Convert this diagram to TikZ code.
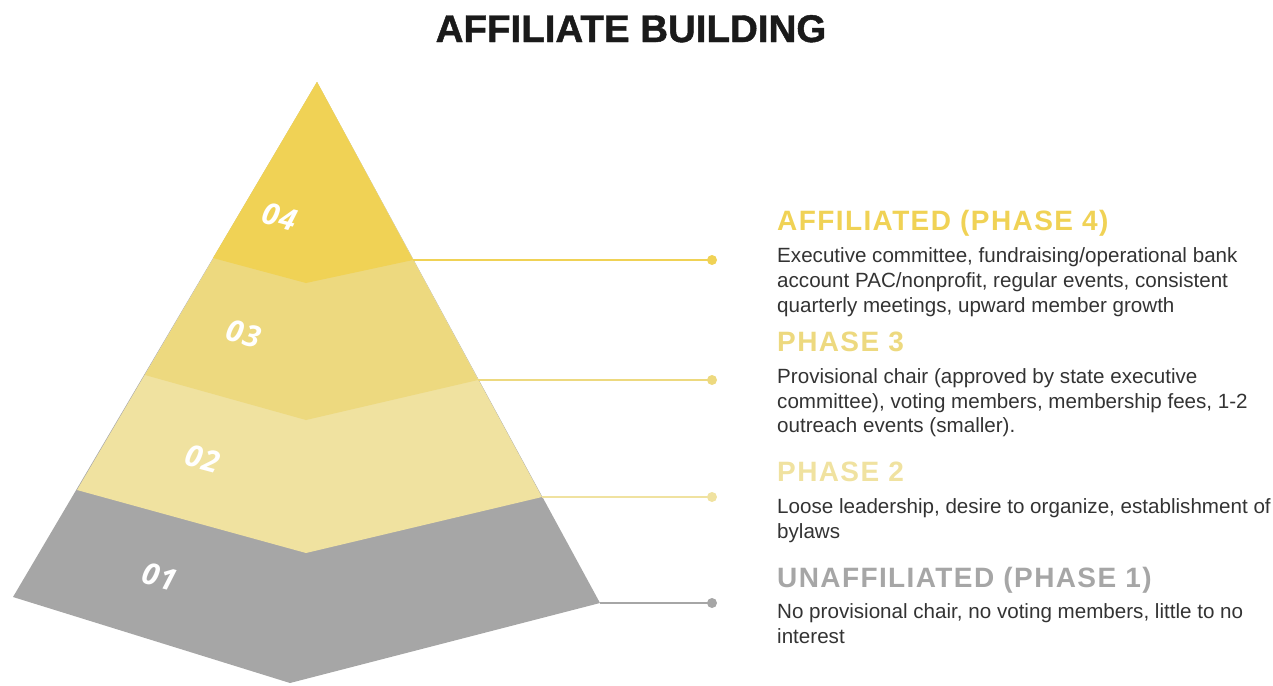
\documentclass[tikz,border=0pt]{standalone}
\usepackage{fontspec}
\setmainfont{Liberation Sans}
\newfontfamily\headfont[LetterSpace=5]{Liberation Sans}
\newfontfamily\titlefont[BoldFeatures={FakeBold=1.2}]{Liberation Sans}
\newfontfamily\numfont[LetterSpace=4]{Open Sans}
\definecolor{cfour}{HTML}{F0D255}
\definecolor{cthree}{HTML}{EDD97F}
\definecolor{ctwo}{HTML}{F0E2A0}
\definecolor{cone}{HTML}{A6A6A6}
\definecolor{bodytext}{HTML}{333333}
\definecolor{titlecol}{HTML}{1A1A1A}
\tikzset{
  head/.style={anchor=base west, inner sep=0pt, font=\headfont\bfseries\fontsize{28}{28}\selectfont},
  body/.style={anchor=base west, inner sep=0pt, text=bodytext, font=\fontsize{20.6}{25}\selectfont},
  num/.style={inner sep=0pt, text=white, rotate=-15, font=\numfont\bfseries\itshape\fontsize{30}{30}\selectfont},
  dot/.style={circle, inner sep=0pt, minimum size=10pt},
  conn/.style={line width=2pt}
}
\begin{document}
\begin{tikzpicture}[x=1pt,y=-1pt]
\useasboundingbox (0,0) rectangle (1273,685);
% pyramid points
\coordinate (apex) at (317,82);
\coordinate (l4) at (213,258); \coordinate (m4) at (306,283); \coordinate (r4) at (413,260);
\coordinate (l3) at (145,375); \coordinate (m3) at (306,420); \coordinate (r3) at (478,380);
\coordinate (l2) at (77,490);  \coordinate (m2) at (306,553); \coordinate (r2) at (542,497);
\coordinate (l1) at (13,597);  \coordinate (m1) at (290,683); \coordinate (r1) at (600,603);
% layers
\fill[cone]   (apex) -- (r1) -- (m1) -- (l1) -- cycle;
\fill[ctwo]   (apex) -- (r2) -- (m2) -- (l2) -- cycle;
\fill[cthree] (apex) -- (r3) -- (m3) -- (l3) -- cycle;
\fill[cfour]  (apex) -- (r4) -- (m4) -- (l4) -- cycle;
% numbers
\node[num] (n4) at (280,217) {04};
\node[num] (n3) at (244,334) {03};
\node[num] (n2) at (203,459) {02};
\node[num] (n1) at (160,577) {01};
% dots
\node[dot, fill=cfour]  (d4) at (712,260) {};
\node[dot, fill=cthree] (d3) at (712,380) {};
\node[dot, fill=ctwo]   (d2) at (712,497) {};
\node[dot, fill=cone]   (d1) at (712,603) {};
% connectors
\draw[conn, cfour]  (r4) -- (d4.center);
\draw[conn, cthree] (r3) -- (d3.center);
\draw[conn, ctwo]   (r2) -- (d2.center);
\draw[conn, cone]   (r1) -- (d1.center);
% title
\node[anchor=base, inner sep=0pt, text=titlecol, font=\titlefont\bfseries\fontsize{38.5}{40}\selectfont] (title) at (631,42) {AFFILIATE BUILDING};
% phase 4
\node[head, text=cfour] (h4) at (777,230) {AFFILIATED (PHASE 4)};
\node[body] (b4a) at (777,262) {Executive committee, fundraising/operational bank};
\node[body] (b4b) at (777,287) {account PAC/nonprofit, regular events, consistent};
\node[body] (b4c) at (777,312) {quarterly meetings, upward member growth};
% phase 3
\node[head, text=cthree] (h3) at (777,351) {PHASE 3};
\node[body] (b3a) at (777,383) {Provisional chair (approved by state executive};
\node[body] (b3b) at (777,408) {committee), voting members, membership fees, 1-2};
\node[body] (b3c) at (777,432) {outreach events (smaller).};
% phase 2
\node[head, text=ctwo] (h2) at (777,481) {PHASE 2};
\node[body] (b2a) at (777,513) {Loose leadership, desire to organize, establishment of};
\node[body] (b2b) at (777,538) {bylaws};
% phase 1
\node[head, text=cone] (h1) at (777,587) {UNAFFILIATED (PHASE 1)};
\node[body] (b1a) at (777,618) {No provisional chair, no voting members, little to no};
\node[body] (b1b) at (777,643) {interest};
\end{tikzpicture}
\end{document}
